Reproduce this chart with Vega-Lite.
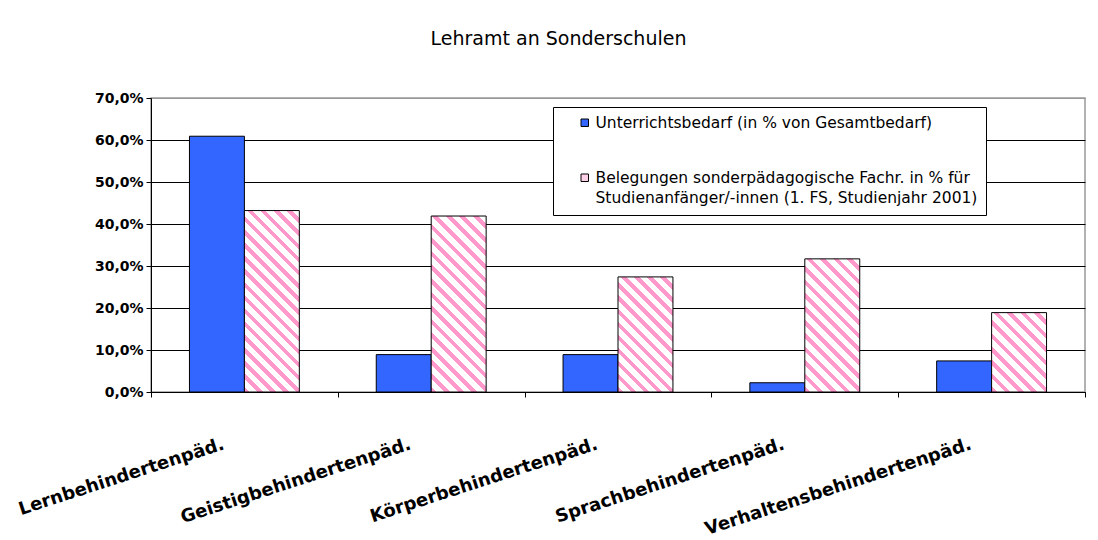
{
  "$schema": "https://vega.github.io/schema/vega-lite/v6.json",
  "autosize": {"type": "none"},
  "padding": {"left": 151, "top": 98, "right": 13, "bottom": 148},
  "width": 934,
  "height": 294,
  "background": "white",
  "title": {"text": "Lehramt an Sonderschulen", "font": "DejaVu Sans", "fontSize": 19, "fontWeight": "normal", "color": "black", "offset": 27, "dx": -59.5, "baseline": "alphabetic", "frame": "group", "anchor": "middle"},
  "data": {"values": [
    {"cat": "Lernbehindertenpäd.", "series": "Unterrichtsbedarf (in % von Gesamtbedarf)", "value": 60.9},
    {"cat": "Lernbehindertenpäd.", "series": "Belegungen sonderpädagogische Fachr. in % für Studienanfänger/-innen (1. FS, Studienjahr 2001)", "value": 43.2},
    {"cat": "Geistigbehindertenpäd.", "series": "Unterrichtsbedarf (in % von Gesamtbedarf)", "value": 8.9},
    {"cat": "Geistigbehindertenpäd.", "series": "Belegungen sonderpädagogische Fachr. in % für Studienanfänger/-innen (1. FS, Studienjahr 2001)", "value": 41.9},
    {"cat": "Körperbehindertenpäd.", "series": "Unterrichtsbedarf (in % von Gesamtbedarf)", "value": 8.9},
    {"cat": "Körperbehindertenpäd.", "series": "Belegungen sonderpädagogische Fachr. in % für Studienanfänger/-innen (1. FS, Studienjahr 2001)", "value": 27.4},
    {"cat": "Sprachbehindertenpäd.", "series": "Unterrichtsbedarf (in % von Gesamtbedarf)", "value": 2.2},
    {"cat": "Sprachbehindertenpäd.", "series": "Belegungen sonderpädagogische Fachr. in % für Studienanfänger/-innen (1. FS, Studienjahr 2001)", "value": 31.7},
    {"cat": "Verhaltensbehindertenpäd.", "series": "Unterrichtsbedarf (in % von Gesamtbedarf)", "value": 7.4},
    {"cat": "Verhaltensbehindertenpäd.", "series": "Belegungen sonderpädagogische Fachr. in % für Studienanfänger/-innen (1. FS, Studienjahr 2001)", "value": 18.9}
  ]},
  "mark": {"type": "bar", "stroke": "black", "strokeWidth": 1},
  "encoding": {
    "x": {
      "field": "cat", "type": "nominal",
      "sort": ["Lernbehindertenpäd.", "Geistigbehindertenpäd.", "Körperbehindertenpäd.", "Sprachbehindertenpäd.", "Verhaltensbehindertenpäd."],
      "scale": {"paddingInner": 0, "paddingOuter": 0},
      "axis": {"title": null, "tickBand": "extent", "tickSize": 5, "labelAngle": -18, "labelAlign": "right", "labelBaseline": "top", "labelPadding": 38, "labelOffset": -24, "labelFont": "DejaVu Sans", "labelFontWeight": "bold", "labelFontSize": 18, "labelColor": "black", "labelLimit": 0, "domainColor": "black", "tickColor": "black", "grid": false}
    },
    "xOffset": {
      "field": "series", "type": "nominal",
      "sort": ["Unterrichtsbedarf (in % von Gesamtbedarf)", "Belegungen sonderpädagogische Fachr. in % für Studienanfänger/-innen (1. FS, Studienjahr 2001)"],
      "scale": {"paddingInner": 0, "paddingOuter": 0.7}
    },
    "y": {
      "field": "value", "type": "quantitative",
      "scale": {"domain": [0, 70], "nice": false},
      "axis": {"title": null, "values": [0, 10, 20, 30, 40, 50, 60, 70], "grid": true, "gridColor": {"condition": {"test": "datum.value == 70", "value": "#999999"}, "value": "black"}, "labelExpr": "replace(format(datum.value, '.1f'), '.', ',') + '%'", "labelFont": "DejaVu Sans", "labelFontWeight": "bold", "labelFontSize": 14, "labelColor": "black", "labelPadding": 3, "tickSize": 5, "domainColor": "black", "tickColor": "black"}
    },
    "fill": {
      "field": "series", "type": "nominal",
      "scale": {"domain": ["Unterrichtsbedarf (in % von Gesamtbedarf)", "Belegungen sonderpädagogische Fachr. in % für Studienanfänger/-innen (1. FS, Studienjahr 2001)"], "range": ["#3366FF", "#FFD1E8"]},
      "legend": {"orient": "none", "legendX": 402, "legendY": 9, "title": null, "fillColor": "white", "strokeColor": "black", "padding": 8, "symbolType": "square", "symbolSize": 56, "symbolStrokeColor": "black", "symbolStrokeWidth": 1, "symbolOffset": 16, "labelFont": "DejaVu Sans", "labelFontSize": 15.5, "labelColor": "black", "labelLimit": 0, "rowPadding": 38, "labelOffset": 3,
        "encode": {"labels": {"update": {"lineHeight": {"value": 20}}}},
        "labelExpr": "indexof(datum.label, 'Belegungen') == 0 ? ['Belegungen sonderpädagogische Fachr. in % für', 'Studienanfänger/-innen (1. FS, Studienjahr 2001)'] : datum.label"},
      "condition": [
        {"test": "indexof(datum.series, 'Belegungen') == 0 && datum.cat == 'Lernbehindertenpäd.'", "value": {"gradient": "linear", "x1": 0, "y1": 1, "x2": 0.3614, "y2": -0.1934, "stops": [
          {"offset": 0, "color": "#FF99CC"}, {"offset": 0.0233, "color": "#FF99CC"}, {"offset": 0.0233, "color": "#FFFFFF"}, {"offset": 0.0556, "color": "#FFFFFF"},
          {"offset": 0.0556, "color": "#FF99CC"}, {"offset": 0.0789, "color": "#FF99CC"}, {"offset": 0.0789, "color": "#FFFFFF"}, {"offset": 0.1111, "color": "#FFFFFF"},
          {"offset": 0.1111, "color": "#FF99CC"}, {"offset": 0.1344, "color": "#FF99CC"}, {"offset": 0.1344, "color": "#FFFFFF"}, {"offset": 0.1667, "color": "#FFFFFF"},
          {"offset": 0.1667, "color": "#FF99CC"}, {"offset": 0.19, "color": "#FF99CC"}, {"offset": 0.19, "color": "#FFFFFF"}, {"offset": 0.2222, "color": "#FFFFFF"},
          {"offset": 0.2222, "color": "#FF99CC"}, {"offset": 0.2456, "color": "#FF99CC"}, {"offset": 0.2456, "color": "#FFFFFF"}, {"offset": 0.2778, "color": "#FFFFFF"},
          {"offset": 0.2778, "color": "#FF99CC"}, {"offset": 0.3011, "color": "#FF99CC"}, {"offset": 0.3011, "color": "#FFFFFF"}, {"offset": 0.3333, "color": "#FFFFFF"},
          {"offset": 0.3333, "color": "#FF99CC"}, {"offset": 0.3567, "color": "#FF99CC"}, {"offset": 0.3567, "color": "#FFFFFF"}, {"offset": 0.3889, "color": "#FFFFFF"},
          {"offset": 0.3889, "color": "#FF99CC"}, {"offset": 0.4122, "color": "#FF99CC"}, {"offset": 0.4122, "color": "#FFFFFF"}, {"offset": 0.4444, "color": "#FFFFFF"},
          {"offset": 0.4444, "color": "#FF99CC"}, {"offset": 0.4678, "color": "#FF99CC"}, {"offset": 0.4678, "color": "#FFFFFF"}, {"offset": 0.5, "color": "#FFFFFF"},
          {"offset": 0.5, "color": "#FF99CC"}, {"offset": 0.5233, "color": "#FF99CC"}, {"offset": 0.5233, "color": "#FFFFFF"}, {"offset": 0.5556, "color": "#FFFFFF"},
          {"offset": 0.5556, "color": "#FF99CC"}, {"offset": 0.5789, "color": "#FF99CC"}, {"offset": 0.5789, "color": "#FFFFFF"}, {"offset": 0.6111, "color": "#FFFFFF"},
          {"offset": 0.6111, "color": "#FF99CC"}, {"offset": 0.6344, "color": "#FF99CC"}, {"offset": 0.6344, "color": "#FFFFFF"}, {"offset": 0.6667, "color": "#FFFFFF"},
          {"offset": 0.6667, "color": "#FF99CC"}, {"offset": 0.69, "color": "#FF99CC"}, {"offset": 0.69, "color": "#FFFFFF"}, {"offset": 0.7222, "color": "#FFFFFF"},
          {"offset": 0.7222, "color": "#FF99CC"}, {"offset": 0.7456, "color": "#FF99CC"}, {"offset": 0.7456, "color": "#FFFFFF"}, {"offset": 0.7778, "color": "#FFFFFF"},
          {"offset": 0.7778, "color": "#FF99CC"}, {"offset": 0.8011, "color": "#FF99CC"}, {"offset": 0.8011, "color": "#FFFFFF"}, {"offset": 0.8333, "color": "#FFFFFF"},
          {"offset": 0.8333, "color": "#FF99CC"}, {"offset": 0.8567, "color": "#FF99CC"}, {"offset": 0.8567, "color": "#FFFFFF"}, {"offset": 0.8889, "color": "#FFFFFF"},
          {"offset": 0.8889, "color": "#FF99CC"}, {"offset": 0.9122, "color": "#FF99CC"}, {"offset": 0.9122, "color": "#FFFFFF"}, {"offset": 0.9444, "color": "#FFFFFF"},
          {"offset": 0.9444, "color": "#FF99CC"}, {"offset": 0.9678, "color": "#FF99CC"}, {"offset": 0.9678, "color": "#FFFFFF"}, {"offset": 1, "color": "#FFFFFF"}
        ]}},
        {"test": "indexof(datum.series, 'Belegungen') == 0 && datum.cat == 'Geistigbehindertenpäd.'", "value": {"gradient": "linear", "x1": 0, "y1": 1, "x2": 0.3733, "y2": -0.1956, "stops": [
          {"offset": 0, "color": "#FF99CC"}, {"offset": 0.0247, "color": "#FF99CC"}, {"offset": 0.0247, "color": "#FFFFFF"}, {"offset": 0.0588, "color": "#FFFFFF"},
          {"offset": 0.0588, "color": "#FF99CC"}, {"offset": 0.0835, "color": "#FF99CC"}, {"offset": 0.0835, "color": "#FFFFFF"}, {"offset": 0.1176, "color": "#FFFFFF"},
          {"offset": 0.1176, "color": "#FF99CC"}, {"offset": 0.1424, "color": "#FF99CC"}, {"offset": 0.1424, "color": "#FFFFFF"}, {"offset": 0.1765, "color": "#FFFFFF"},
          {"offset": 0.1765, "color": "#FF99CC"}, {"offset": 0.2012, "color": "#FF99CC"}, {"offset": 0.2012, "color": "#FFFFFF"}, {"offset": 0.2353, "color": "#FFFFFF"},
          {"offset": 0.2353, "color": "#FF99CC"}, {"offset": 0.26, "color": "#FF99CC"}, {"offset": 0.26, "color": "#FFFFFF"}, {"offset": 0.2941, "color": "#FFFFFF"},
          {"offset": 0.2941, "color": "#FF99CC"}, {"offset": 0.3188, "color": "#FF99CC"}, {"offset": 0.3188, "color": "#FFFFFF"}, {"offset": 0.3529, "color": "#FFFFFF"},
          {"offset": 0.3529, "color": "#FF99CC"}, {"offset": 0.3776, "color": "#FF99CC"}, {"offset": 0.3776, "color": "#FFFFFF"}, {"offset": 0.4118, "color": "#FFFFFF"},
          {"offset": 0.4118, "color": "#FF99CC"}, {"offset": 0.4365, "color": "#FF99CC"}, {"offset": 0.4365, "color": "#FFFFFF"}, {"offset": 0.4706, "color": "#FFFFFF"},
          {"offset": 0.4706, "color": "#FF99CC"}, {"offset": 0.4953, "color": "#FF99CC"}, {"offset": 0.4953, "color": "#FFFFFF"}, {"offset": 0.5294, "color": "#FFFFFF"},
          {"offset": 0.5294, "color": "#FF99CC"}, {"offset": 0.5541, "color": "#FF99CC"}, {"offset": 0.5541, "color": "#FFFFFF"}, {"offset": 0.5882, "color": "#FFFFFF"},
          {"offset": 0.5882, "color": "#FF99CC"}, {"offset": 0.6129, "color": "#FF99CC"}, {"offset": 0.6129, "color": "#FFFFFF"}, {"offset": 0.6471, "color": "#FFFFFF"},
          {"offset": 0.6471, "color": "#FF99CC"}, {"offset": 0.6718, "color": "#FF99CC"}, {"offset": 0.6718, "color": "#FFFFFF"}, {"offset": 0.7059, "color": "#FFFFFF"},
          {"offset": 0.7059, "color": "#FF99CC"}, {"offset": 0.7306, "color": "#FF99CC"}, {"offset": 0.7306, "color": "#FFFFFF"}, {"offset": 0.7647, "color": "#FFFFFF"},
          {"offset": 0.7647, "color": "#FF99CC"}, {"offset": 0.7894, "color": "#FF99CC"}, {"offset": 0.7894, "color": "#FFFFFF"}, {"offset": 0.8235, "color": "#FFFFFF"},
          {"offset": 0.8235, "color": "#FF99CC"}, {"offset": 0.8482, "color": "#FF99CC"}, {"offset": 0.8482, "color": "#FFFFFF"}, {"offset": 0.8824, "color": "#FFFFFF"},
          {"offset": 0.8824, "color": "#FF99CC"}, {"offset": 0.9071, "color": "#FF99CC"}, {"offset": 0.9071, "color": "#FFFFFF"}, {"offset": 0.9412, "color": "#FFFFFF"},
          {"offset": 0.9412, "color": "#FF99CC"}, {"offset": 0.9659, "color": "#FF99CC"}, {"offset": 0.9659, "color": "#FFFFFF"}, {"offset": 1, "color": "#FFFFFF"}
        ]}},
        {"test": "indexof(datum.series, 'Belegungen') == 0 && datum.cat == 'Körperbehindertenpäd.'", "value": {"gradient": "linear", "x1": 0, "y1": 1, "x2": 0.5744, "y2": -0.2032, "stops": [
          {"offset": 0, "color": "#FF99CC"}, {"offset": 0.0323, "color": "#FF99CC"}, {"offset": 0.0323, "color": "#FFFFFF"}, {"offset": 0.0769, "color": "#FFFFFF"},
          {"offset": 0.0769, "color": "#FF99CC"}, {"offset": 0.1092, "color": "#FF99CC"}, {"offset": 0.1092, "color": "#FFFFFF"}, {"offset": 0.1538, "color": "#FFFFFF"},
          {"offset": 0.1538, "color": "#FF99CC"}, {"offset": 0.1862, "color": "#FF99CC"}, {"offset": 0.1862, "color": "#FFFFFF"}, {"offset": 0.2308, "color": "#FFFFFF"},
          {"offset": 0.2308, "color": "#FF99CC"}, {"offset": 0.2631, "color": "#FF99CC"}, {"offset": 0.2631, "color": "#FFFFFF"}, {"offset": 0.3077, "color": "#FFFFFF"},
          {"offset": 0.3077, "color": "#FF99CC"}, {"offset": 0.34, "color": "#FF99CC"}, {"offset": 0.34, "color": "#FFFFFF"}, {"offset": 0.3846, "color": "#FFFFFF"},
          {"offset": 0.3846, "color": "#FF99CC"}, {"offset": 0.4169, "color": "#FF99CC"}, {"offset": 0.4169, "color": "#FFFFFF"}, {"offset": 0.4615, "color": "#FFFFFF"},
          {"offset": 0.4615, "color": "#FF99CC"}, {"offset": 0.4938, "color": "#FF99CC"}, {"offset": 0.4938, "color": "#FFFFFF"}, {"offset": 0.5385, "color": "#FFFFFF"},
          {"offset": 0.5385, "color": "#FF99CC"}, {"offset": 0.5708, "color": "#FF99CC"}, {"offset": 0.5708, "color": "#FFFFFF"}, {"offset": 0.6154, "color": "#FFFFFF"},
          {"offset": 0.6154, "color": "#FF99CC"}, {"offset": 0.6477, "color": "#FF99CC"}, {"offset": 0.6477, "color": "#FFFFFF"}, {"offset": 0.6923, "color": "#FFFFFF"},
          {"offset": 0.6923, "color": "#FF99CC"}, {"offset": 0.7246, "color": "#FF99CC"}, {"offset": 0.7246, "color": "#FFFFFF"}, {"offset": 0.7692, "color": "#FFFFFF"},
          {"offset": 0.7692, "color": "#FF99CC"}, {"offset": 0.8015, "color": "#FF99CC"}, {"offset": 0.8015, "color": "#FFFFFF"}, {"offset": 0.8462, "color": "#FFFFFF"},
          {"offset": 0.8462, "color": "#FF99CC"}, {"offset": 0.8785, "color": "#FF99CC"}, {"offset": 0.8785, "color": "#FFFFFF"}, {"offset": 0.9231, "color": "#FFFFFF"},
          {"offset": 0.9231, "color": "#FF99CC"}, {"offset": 0.9554, "color": "#FF99CC"}, {"offset": 0.9554, "color": "#FFFFFF"}, {"offset": 1, "color": "#FFFFFF"}
        ]}},
        {"test": "indexof(datum.series, 'Belegungen') == 0 && datum.cat == 'Sprachbehindertenpäd.'", "value": {"gradient": "linear", "x1": 0, "y1": 1, "x2": 0.4981, "y2": -0.2071, "stops": [
          {"offset": 0, "color": "#FF99CC"}, {"offset": 0.03, "color": "#FF99CC"}, {"offset": 0.03, "color": "#FFFFFF"}, {"offset": 0.0714, "color": "#FFFFFF"},
          {"offset": 0.0714, "color": "#FF99CC"}, {"offset": 0.1014, "color": "#FF99CC"}, {"offset": 0.1014, "color": "#FFFFFF"}, {"offset": 0.1429, "color": "#FFFFFF"},
          {"offset": 0.1429, "color": "#FF99CC"}, {"offset": 0.1729, "color": "#FF99CC"}, {"offset": 0.1729, "color": "#FFFFFF"}, {"offset": 0.2143, "color": "#FFFFFF"},
          {"offset": 0.2143, "color": "#FF99CC"}, {"offset": 0.2443, "color": "#FF99CC"}, {"offset": 0.2443, "color": "#FFFFFF"}, {"offset": 0.2857, "color": "#FFFFFF"},
          {"offset": 0.2857, "color": "#FF99CC"}, {"offset": 0.3157, "color": "#FF99CC"}, {"offset": 0.3157, "color": "#FFFFFF"}, {"offset": 0.3571, "color": "#FFFFFF"},
          {"offset": 0.3571, "color": "#FF99CC"}, {"offset": 0.3871, "color": "#FF99CC"}, {"offset": 0.3871, "color": "#FFFFFF"}, {"offset": 0.4286, "color": "#FFFFFF"},
          {"offset": 0.4286, "color": "#FF99CC"}, {"offset": 0.4586, "color": "#FF99CC"}, {"offset": 0.4586, "color": "#FFFFFF"}, {"offset": 0.5, "color": "#FFFFFF"},
          {"offset": 0.5, "color": "#FF99CC"}, {"offset": 0.53, "color": "#FF99CC"}, {"offset": 0.53, "color": "#FFFFFF"}, {"offset": 0.5714, "color": "#FFFFFF"},
          {"offset": 0.5714, "color": "#FF99CC"}, {"offset": 0.6014, "color": "#FF99CC"}, {"offset": 0.6014, "color": "#FFFFFF"}, {"offset": 0.6429, "color": "#FFFFFF"},
          {"offset": 0.6429, "color": "#FF99CC"}, {"offset": 0.6729, "color": "#FF99CC"}, {"offset": 0.6729, "color": "#FFFFFF"}, {"offset": 0.7143, "color": "#FFFFFF"},
          {"offset": 0.7143, "color": "#FF99CC"}, {"offset": 0.7443, "color": "#FF99CC"}, {"offset": 0.7443, "color": "#FFFFFF"}, {"offset": 0.7857, "color": "#FFFFFF"},
          {"offset": 0.7857, "color": "#FF99CC"}, {"offset": 0.8157, "color": "#FF99CC"}, {"offset": 0.8157, "color": "#FFFFFF"}, {"offset": 0.8571, "color": "#FFFFFF"},
          {"offset": 0.8571, "color": "#FF99CC"}, {"offset": 0.8871, "color": "#FF99CC"}, {"offset": 0.8871, "color": "#FFFFFF"}, {"offset": 0.9286, "color": "#FFFFFF"},
          {"offset": 0.9286, "color": "#FF99CC"}, {"offset": 0.9586, "color": "#FF99CC"}, {"offset": 0.9586, "color": "#FFFFFF"}, {"offset": 1, "color": "#FFFFFF"}
        ]}},
        {"test": "indexof(datum.series, 'Belegungen') == 0 && datum.cat == 'Verhaltensbehindertenpäd.'", "value": {"gradient": "linear", "x1": 0, "y1": 1, "x2": 0.7918, "y2": -0.1441, "stops": [
          {"offset": 0, "color": "#FF99CC"}, {"offset": 0.042, "color": "#FF99CC"}, {"offset": 0.042, "color": "#FFFFFF"}, {"offset": 0.1, "color": "#FFFFFF"},
          {"offset": 0.1, "color": "#FF99CC"}, {"offset": 0.142, "color": "#FF99CC"}, {"offset": 0.142, "color": "#FFFFFF"}, {"offset": 0.2, "color": "#FFFFFF"},
          {"offset": 0.2, "color": "#FF99CC"}, {"offset": 0.242, "color": "#FF99CC"}, {"offset": 0.242, "color": "#FFFFFF"}, {"offset": 0.3, "color": "#FFFFFF"},
          {"offset": 0.3, "color": "#FF99CC"}, {"offset": 0.342, "color": "#FF99CC"}, {"offset": 0.342, "color": "#FFFFFF"}, {"offset": 0.4, "color": "#FFFFFF"},
          {"offset": 0.4, "color": "#FF99CC"}, {"offset": 0.442, "color": "#FF99CC"}, {"offset": 0.442, "color": "#FFFFFF"}, {"offset": 0.5, "color": "#FFFFFF"},
          {"offset": 0.5, "color": "#FF99CC"}, {"offset": 0.542, "color": "#FF99CC"}, {"offset": 0.542, "color": "#FFFFFF"}, {"offset": 0.6, "color": "#FFFFFF"},
          {"offset": 0.6, "color": "#FF99CC"}, {"offset": 0.642, "color": "#FF99CC"}, {"offset": 0.642, "color": "#FFFFFF"}, {"offset": 0.7, "color": "#FFFFFF"},
          {"offset": 0.7, "color": "#FF99CC"}, {"offset": 0.742, "color": "#FF99CC"}, {"offset": 0.742, "color": "#FFFFFF"}, {"offset": 0.8, "color": "#FFFFFF"},
          {"offset": 0.8, "color": "#FF99CC"}, {"offset": 0.842, "color": "#FF99CC"}, {"offset": 0.842, "color": "#FFFFFF"}, {"offset": 0.9, "color": "#FFFFFF"},
          {"offset": 0.9, "color": "#FF99CC"}, {"offset": 0.942, "color": "#FF99CC"}, {"offset": 0.942, "color": "#FFFFFF"}, {"offset": 1, "color": "#FFFFFF"}
        ]}}
      ]
    }
  },
  "config": {
    "view": {"stroke": "#999999", "strokeWidth": 1.5},
    "axis": {"domainColor": "black", "tickColor": "black"}
  }
}
